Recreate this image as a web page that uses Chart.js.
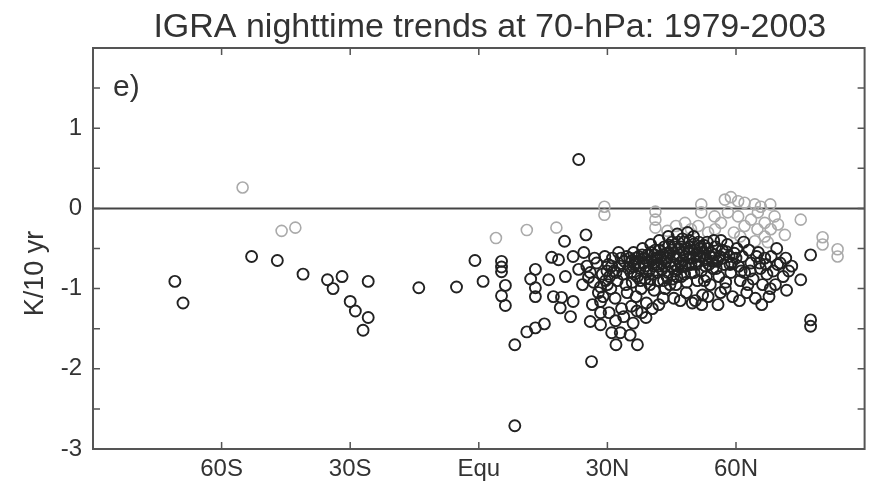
<!DOCTYPE html>
<html>
<head>
<meta charset="utf-8">
<title>IGRA nighttime trends at 70-hPa</title>
<script src="https://cdn.jsdelivr.net/npm/chart.js@4.4.0/dist/chart.umd.min.js"></script>
<style>
  body { margin: 0; background: #fff; }
</style>
</head>
<body>
<canvas id="trendChart" width="872" height="483"></canvas>
<script>
const titleText = 'IGRA nighttime trends at 70-hPa: 1979-2003';
const panelLabel = 'e)';
const yTitle = 'K/10 yr';
const latTicks = [-60, -30, 0, 30, 60];
const latLabels = ['60S', '30S', 'Equ', '30N', '60N'];

// [latitude, trend K/10yr] - black circles
const strongTrends = [
    [-70.9,-0.91],[-69,-1.18],[-53,-0.6],[-47,-0.65],[-41,-0.82],[-35.3,-0.89],[-34,-1.0],[-31.9,-0.85],
    [-30,-1.16],[-28.8,-1.28],[-25.8,-1.36],[-27,-1.52],[-25.8,-0.91],[-14,-0.99],[-5.2,-0.98],[-0.9,-0.65],
    [1,-0.91],[5.3,-0.66],[5.3,-0.73],[5.3,-0.79],[6.2,-0.96],[5.3,-1.09],[6.2,-1.21],[8.4,-1.7],[8.4,-2.71],
    [11.2,-1.54],[13.2,-1.49],[15.3,-1.44],[13.2,-0.76],[12.1,-0.88],[13.2,-0.99],[13.2,-1.1],[16.3,-0.89],
    [17,-0.61],[18.6,-0.64],[20,-0.41],[25,-0.33],[22,-0.6],[17.4,-1.1],[19.3,-1.11],[19,-1.24],[21.4,-1.35],
    [22,-1.16],[26,-1.41],[28.4,-1.45],[26.3,-1.91],[20.2,-0.85],[23.3,-0.76],[25.6,-0.86],[28.4,-0.98],
    [28.4,-1.16],[28.4,-1.3],[31,-1.55],[32,-1.7],[33,-1.55],[35.3,-1.58],[37,-1.7],[36,-1.43],[39,-1.36],
    [23.3,0.61],
    [77.4,-0.58],[75.1,-0.89],[77.4,-1.39],[77.4,-1.47],
    [24.5,-0.55],[25.2,-0.72],[26,-0.8],[26.8,-0.92],[27.5,-0.68],[27.9,-1.05],[28.8,-0.82],[29.4,-0.6],
    [29.6,-0.9],[24.2,-0.95],[26.5,-1.2],[29,-1.1],
    [30.2,-0.7],[30.5,-0.85],[30.8,-1.0],[31.2,-0.62],[31.5,-0.78],[31.8,-1.12],[32.3,-0.9],[32.6,-0.55],
    [32.9,-0.72],[33.3,-1.25],[33.6,-0.82],[34,-0.66],[34.3,-0.95],[34.6,-1.05],[34.9,-0.75],[30.4,-1.3],
    [31.9,-1.4],[33.8,-1.35],[30,-0.95],[32,-0.8],
    [35.2,-0.62],[35.5,-0.8],[35.8,-0.92],[36.1,-0.55],[36.4,-0.7],[36.7,-1.1],[37,-0.85],[37.3,-0.6],
    [37.6,-0.75],[37.9,-1.0],[38.2,-0.5],[38.5,-0.68],[38.8,-0.88],[39.1,-1.18],[39.4,-0.58],[39.7,-0.78],
    [35.6,-1.22],[36.9,-1.28],[38,-1.3],[39.9,-0.95],[36,-0.72],[38.6,-0.62],
    [40.1,-0.45],[40.3,-0.65],[40.6,-0.82],[40.9,-1.02],[41.2,-0.52],[41.5,-0.7],[41.8,-0.9],[42.1,-0.4],
    [42.4,-0.6],[42.7,-0.76],[43,-1.12],[43.3,-0.48],[43.6,-0.66],[43.9,-0.85],[44.2,-0.35],[44.5,-0.56],
    [44.8,-0.72],[40.5,-1.25],[42,-1.2],[43.5,-1.0],[44.6,-0.95],[41,-0.58],[42.6,-0.68],[44,-0.62],
    [41.6,-0.8],[43.1,-0.9],
    [45.1,-0.42],[45.4,-0.6],[45.7,-0.78],[46,-0.95],[46.3,-0.32],[46.6,-0.5],[46.9,-0.68],[47.2,-0.85],
    [47.5,-0.38],[47.8,-0.55],[48.1,-0.72],[48.4,-1.05],[48.7,-0.3],[49,-0.48],[49.3,-0.62],[49.6,-0.8],
    [45.5,-1.12],[47,-1.15],[48.5,-0.92],[49.8,-1.18],[45.9,-0.7],[46.8,-0.58],[47.6,-0.65],[48.9,-0.7],
    [46.2,-0.85],[49.2,-0.4],
    [50.1,-0.35],[50.4,-0.52],[50.7,-0.7],[51,-0.9],[51.3,-0.42],[51.6,-0.6],[51.9,-0.78],[52.2,-1.08],
    [52.5,-0.46],[52.8,-0.64],[53.1,-0.85],[53.4,-0.5],[53.7,-0.7],[54,-0.95],[54.3,-0.56],[54.6,-0.75],
    [50.5,-1.15],[52,-1.2],[53.5,-1.1],[54.8,-0.4],[51.5,-0.5],[53,-0.62],
    [55.2,-0.48],[55.6,-0.66],[56,-0.85],[56.4,-1.05],[56.8,-0.52],[57.2,-0.7],[57.6,-0.92],[58,-0.45],
    [58.4,-0.6],[58.8,-0.8],[59.2,-1.1],[59.6,-0.56],[55.8,-1.2],[57.5,-1.0],[59,-0.68],[56.5,-0.4],
    [60.2,-0.5],[60.6,-0.72],[61,-0.9],[61.5,-0.6],[62,-0.8],[62.5,-1.05],[63,-0.52],[63.5,-0.68],
    [64,-0.88],[64.5,-1.12],[60.8,-1.15],[62.8,-0.95],[61.8,-0.42],[64.8,-0.6],
    [65.2,-0.55],[65.7,-0.75],[66.2,-0.95],[66.7,-0.62],[67.2,-0.82],[67.7,-1.1],[68.2,-0.6],[68.7,-0.78],
    [69.2,-0.95],[69.7,-0.7],[66,-1.2],[68,-1.0],[69.5,-0.5],
    [70.3,-0.68],[71,-0.85],[71.6,-0.62],[72.3,-0.78],[73,-0.72],[71.8,-1.02],
    // dense core of the northern mid-latitude cluster
    [34.5,-0.6],[35.8,-0.65],[36.6,-0.62],[37.4,-0.68],[38.1,-0.58],[38.9,-0.72],[39.5,-0.66],[40.2,-0.55],
    [40.8,-0.72],[41.4,-0.62],[42,-0.52],[42.9,-0.58],[43.4,-0.72],[43.8,-0.56],[44.4,-0.46],[45,-0.52],
    [45.6,-0.48],[46.1,-0.62],[46.5,-0.42],[47.1,-0.48],[47.4,-0.72],[47.9,-0.42],[48.3,-0.6],[48.6,-0.5],
    [49.1,-0.56],[49.5,-0.7],[50,-0.62],[50.3,-0.44],[50.9,-0.58],[51.2,-0.66],[51.8,-0.48],[52.4,-0.56],
    [52.9,-0.72],[53.3,-0.42],[53.9,-0.6],[54.5,-0.66],[55,-0.58],[55.4,-0.75],[56.2,-0.6],[57,-0.62],
    [57.8,-0.54],[58.6,-0.7],[39,-0.8],[40,-0.88],[41.9,-0.72],[44.1,-0.8],[45.3,-0.88],[46.4,-0.76],
    [48,-0.82],[50.2,-0.8],[52.6,-0.9],[37.7,-0.9],[36.3,-0.82],[33.2,-0.62],[31,-0.72],[29.9,-0.78],
    [27,-0.62],[60,-0.62],[61.2,-0.78],[63.3,-0.78],[65.5,-0.68],[67,-0.7]
];

// [latitude, trend K/10yr] - grey circles
const weakTrends = [
    [-55.1,0.26],[-46,-0.28],[-42.8,-0.24],[4,-0.37],[11.2,-0.27],[18.1,-0.24],[29.3,0.02],[29.3,-0.08],
    [41.2,-0.04],[41.2,-0.14],[41.2,-0.24],[51.9,0.05],[51.9,-0.05],[57.4,0.11],[58.8,0.14],[60.5,0.09],
    [62,0.07],[64.4,0.05],[65.8,0.02],[68,0.05],[55,-0.1],[56.5,-0.18],[58.1,-0.05],[60.5,-0.1],[62,-0.22],
    [63.5,-0.14],[65.1,-0.05],[66.7,-0.18],[68.1,-0.26],[69,-0.1],[69.8,-0.2],[71.4,-0.33],[75.1,-0.14],
    [80.2,-0.36],[80.2,-0.45],[83.7,-0.51],[83.7,-0.6],[48.1,-0.18],[49.5,-0.26],[51.2,-0.22],[53.5,-0.3],
    [55.1,-0.26],[65,-0.26],[66.7,-0.35],[64.4,-0.41],[67.4,-0.42],[44,-0.28],[46,-0.22],[59.5,-0.3],[61,-0.35]
];

const fontFamily = '"Liberation Sans", Arial, Helvetica, sans-serif';
const inkColor = '#333';
const frameColor = '#555';

const toPoints = arr => arr.map(p => ({ x: p[0], y: p[1] }));

// frame, inward ticks, zero line and the free text
const framePlugin = {
    id: 'framePlugin',
    beforeDatasetsDraw(chart) {
        const { ctx, chartArea: a, scales } = chart;
        const y0 = scales.y.getPixelForValue(0);
        ctx.save();
        ctx.strokeStyle = '#444';
        ctx.lineWidth = 2;
        ctx.beginPath();
        ctx.moveTo(a.left, y0);
        ctx.lineTo(a.right, y0);
        ctx.stroke();
        ctx.restore();
    },
    afterDraw(chart) {
        const { ctx, chartArea: a, scales } = chart;
        const tl = 7;
        ctx.save();
        ctx.strokeStyle = frameColor;
        ctx.lineWidth = 2;
        ctx.strokeRect(a.left, a.top, a.right - a.left, a.bottom - a.top);

        ctx.lineWidth = 1.5;
        ctx.beginPath();
        scales.x.ticks.forEach(t => {
            const px = scales.x.getPixelForValue(t.value);
            ctx.moveTo(px, a.bottom); ctx.lineTo(px, a.bottom - tl);
            ctx.moveTo(px, a.top); ctx.lineTo(px, a.top + tl);
        });
        scales.y.ticks.forEach(t => {
            const py = scales.y.getPixelForValue(t.value);
            ctx.moveTo(a.left, py); ctx.lineTo(a.left + tl, py);
            ctx.moveTo(a.right, py); ctx.lineTo(a.right - tl, py);
        });
        ctx.stroke();

        ctx.fillStyle = inkColor;
        ctx.font = '34px ' + fontFamily;
        ctx.textAlign = 'center';
        ctx.textBaseline = 'alphabetic';
        ctx.fillText(titleText, (a.left + a.right) / 2 + 11, 37);

        ctx.font = '30px ' + fontFamily;
        ctx.textAlign = 'left';
        ctx.fillText(panelLabel, a.left + 20, a.top + 48);

        ctx.font = '27px ' + fontFamily;
        ctx.translate(43, (a.top + a.bottom) / 2 + 25);
        ctx.rotate(-Math.PI / 2);
        ctx.textAlign = 'center';
        ctx.fillText(yTitle, 0, 0);
        ctx.restore();
    }
};

new Chart(document.getElementById('trendChart'), {
    type: 'scatter',
    data: {
        datasets: [
            {
                label: 'significant',
                data: toPoints(strongTrends),
                pointStyle: 'circle',
                pointRadius: 5.5,
                pointBorderWidth: 1.9,
                borderColor: '#222',
                backgroundColor: 'rgba(0,0,0,0)'
            },
            {
                label: 'not significant',
                data: toPoints(weakTrends),
                pointStyle: 'circle',
                pointRadius: 5.5,
                pointBorderWidth: 1.6,
                borderColor: '#aaa',
                backgroundColor: 'rgba(0,0,0,0)'
            }
        ]
    },
    options: {
        responsive: false,
        animation: false,
        devicePixelRatio: 1,
        layout: { padding: { top: 48, right: 5, left: 0, bottom: 0 } },
        plugins: {
            legend: { display: false },
            tooltip: { enabled: false },
            title: { display: false }
        },
        scales: {
            x: {
                type: 'linear',
                min: -90,
                max: 90,
                grid: { display: false, drawTicks: false },
                border: { display: false },
                afterBuildTicks: scale => { scale.ticks = latTicks.map(v => ({ value: v })); },
                afterFit: scale => { scale.height = 34; },
                ticks: {
                    padding: 6,
                    color: inkColor,
                    font: { family: fontFamily, size: 24 },
                    callback: (v, i) => latLabels[i]
                }
            },
            y: {
                min: -3,
                max: 2,
                grid: { display: false, drawTicks: false },
                border: { display: false },
                afterFit: scale => { scale.width = 93; },
                ticks: {
                    stepSize: 0.5,
                    padding: 11,
                    color: inkColor,
                    font: { family: fontFamily, size: 24 },
                    callback: v => (Number.isInteger(v) && v < 2) ? String(v) : ''
                }
            }
        }
    },
    plugins: [framePlugin]
});
</script>
</body>
</html>
